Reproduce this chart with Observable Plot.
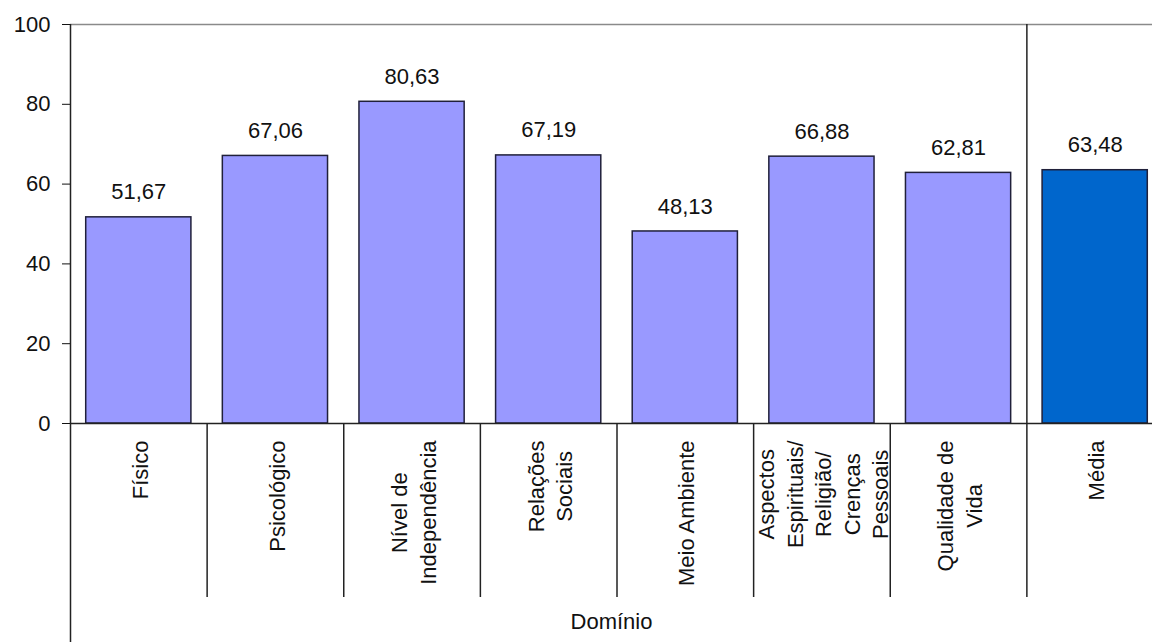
<!DOCTYPE html>
<html><head><meta charset="utf-8">
<script src="https://cdn.jsdelivr.net/npm/d3@7"></script>
<script src="https://cdn.jsdelivr.net/npm/@observablehq/plot@0.6"></script>
<style>
html,body{margin:0;padding:0;background:#fff;overflow:hidden;}
</style></head><body><div id="chart"></div>
<script>
// ---- data ----
const categories = ["Físico","Psicológico","Nível de\nIndependência","Relações\nSociais","Meio Ambiente","Aspectos\nEspirituais/\nReligião/\nCrenças\nPessoais","Qualidade de\nVida","Média"];
const values = [51.67, 67.06, 80.63, 67.19, 48.13, 66.88, 62.81, 63.48];
const kinds = ["Domínio","Domínio","Domínio","Domínio","Domínio","Domínio","Domínio","Média"];
const yTicks = [0, 20, 40, 60, 80, 100];
const axisTitle = "Domínio";

const data = categories.map((c, i) => ({cat: c, value: values[i], kind: kinds[i]}));

// ---- layout ----
const W = 1152, H = 642, mLeft = 70, mTop = 24, mBottom = 219;
const xEnd = 1163;                 // last band is cut by the picture edge
const step = (xEnd - mLeft) / categories.length;
const sepLen = 174;                // category separator length below the axis
const font = "'Liberation Sans', Arial, sans-serif";
const fmt = v => v.toFixed(2).replace(".", ",");

const chart = Plot.plot({
  width: W, height: H,
  marginLeft: mLeft, marginRight: 0, marginTop: mTop, marginBottom: mBottom,
  style: {fontFamily: font, fontSize: "22px", color: "#111", background: "#fff"},
  x: {domain: categories, range: [mLeft, xEnd], paddingInner: 0.23, paddingOuter: 0.115, round: false, axis: null},
  y: {domain: [0, 100], ticks: yTicks, tickSize: 8, tickPadding: 12, label: null, tickFormat: d => String(d)},
  color: {domain: ["Domínio", "Média"], range: ["#9999FF", "#0066CC"]},
  marks: [
    Plot.ruleY([100], {stroke: "#8a8a8a", strokeWidth: 1.5}),
    Plot.barY(data, {x: "cat", y: "value", fill: "kind", stroke: "#20203a", strokeWidth: 1.5}),
    Plot.ruleY([0], {stroke: "#222", strokeWidth: 1.5}),
    // left axis line, reaching the bottom of the picture
    Plot.ruleX([categories[0]], {x: d => d, y1: 100, y2: 0, dx: -step / 2, insetBottom: -mBottom, stroke: "#222", strokeWidth: 1.5}),
    // category separators below the axis
    Plot.ruleX(categories.slice(1, 7), {x: d => d, y1: 0, y2: 0, dx: -step / 2, insetBottom: -sepLen, stroke: "#222", strokeWidth: 1.5}),
    // separator before "Média", full height
    Plot.ruleX([categories[7]], {x: d => d, y1: 100, y2: 0, dx: -step / 2, insetBottom: -sepLen, stroke: "#222", strokeWidth: 1.5}),
    Plot.text(data, {x: "cat", y: "value", text: d => fmt(d.value), dy: -25, fontSize: 22, fill: "#111"}),
    Plot.text(data, {x: "cat", y: () => 0, text: "cat", rotate: -90, textAnchor: "end", dy: 17, lineHeight: 1.3, fontSize: 22, fill: "#111", className: "catlab"}),
    Plot.text([axisTitle], {text: d => d, frameAnchor: "bottom", dy: 205, fontSize: 22, fill: "#111"})
  ]
});
document.getElementById("chart").append(chart);

// centre the lines of each rotated category label on its longest line
const labGroup = chart.querySelector("g.catlab") || chart;
labGroup.querySelectorAll("text").forEach(t => {
  if (!(t.getAttribute("transform") || "").includes("rotate")) return;
  const spans = t.querySelectorAll("tspan");
  const parts = spans.length ? [...spans] : [t];
  const maxLen = Math.max(...parts.map(p => p.getComputedTextLength()));
  t.setAttribute("text-anchor", "middle");
  t.setAttribute("transform", t.getAttribute("transform") + ` translate(${-maxLen / 2},0)`);
});
</script></body></html>
